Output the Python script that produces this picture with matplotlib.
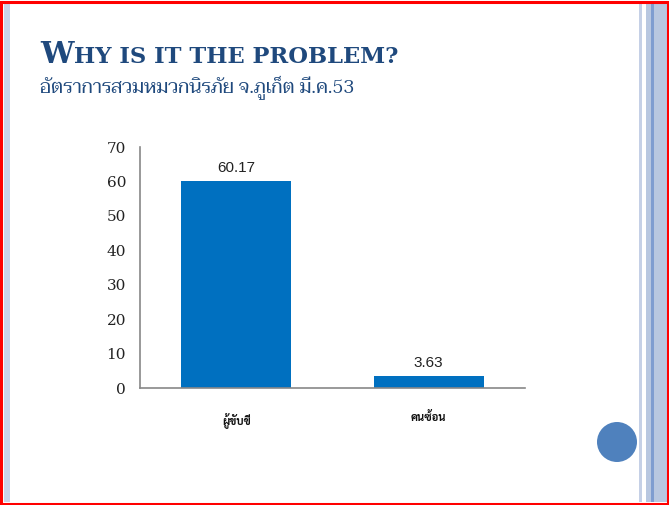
import matplotlib
matplotlib.use("Agg")
import matplotlib.pyplot as plt
from matplotlib.patches import Rectangle, Ellipse

# ---- data ----
categories = ["ผู้ขับขี่", "คนซ้อน"]
values = [60.17, 3.63]
value_labels = ["60.17", "3.63"]
yticks = [0, 10, 20, 30, 40, 50, 60, 70]
title_first = "W"
title_rest = "HY IS IT THE PROBLEM?"
subtitle = "อัตราการสวมหมวกนิรภัย จ.ภูเก็ต มี.ค.53"

W, H = 669, 505
fig = plt.figure(figsize=(W / 100, H / 100), dpi=100)

# background decoration axes (pixel coords)
bg = fig.add_axes([0, 0, 1, 1], zorder=0)
bg.set_xlim(0, W)
bg.set_ylim(H, 0)
bg.axis("off")
bg.add_patch(Rectangle((4, 3), 6, H - 6, color="#C9D3E8", lw=0))
bg.add_patch(Rectangle((639, 3), 3, H - 6, color="#C5D0E6", lw=0))
bg.add_patch(Rectangle((646, 3), 21, H - 6, color="#B8C7E0", lw=0))
bg.add_patch(Rectangle((651, 3), 2.5, H - 6, color="#7F9DD0", lw=0))
bg.add_patch(Rectangle((1, 1.5), W - 2.5, H - 3, fill=False, ec="#FF0000", lw=2.2))
bg.add_patch(Ellipse((617, 442), 40, 40, color="#4F81BD", lw=0))

# title (small caps imitation)
title_color = "#1F497D"
t1 = fig.text(40 / W, 1 - 63 / H, title_first, fontsize=21.5, fontweight="bold",
              family="DejaVu Serif", color=title_color, va="baseline", ha="left")
renderer = fig.canvas.get_renderer()
bb = t1.get_window_extent(renderer)
fig.text((bb.x1 + 1) / W, 1 - 63 / H, title_rest, fontsize=16.3, fontweight="bold",
         family="DejaVu Serif", color=title_color, va="baseline", ha="left")
fig.text(40 / W, 1 - 88 / H, subtitle, fontsize=13.6, family=["Taviraj", "DejaVu Sans"],
         color="#1F497D", va="center", ha="left")

# chart axes
ax = fig.add_axes([140 / W, 1 - 388 / H, 385 / W, 241 / H], zorder=1)
ax.patch.set_alpha(0)
x = list(range(len(categories)))
bars = ax.bar(x, values, width=0.57, color="#0070C0")
ax.set_xlim(-0.5, 1.5)
ax.set_ylim(0, 70)
ax.set_yticks(yticks)
ax.set_yticklabels([str(t) for t in yticks], family="DejaVu Serif", fontsize=11, color="#222222")
ax.set_xticks(x)
ax.set_xticklabels(categories, family=["Sarabun", "DejaVu Sans"], fontsize=8,
                   fontweight="bold", color="#111111")
ax.tick_params(axis="both", length=0)
ax.tick_params(axis="y", pad=10)
ax.tick_params(axis="x", pad=17)
for s in ["top", "right"]:
    ax.spines[s].set_visible(False)
for s in ["left", "bottom"]:
    ax.spines[s].set_color("#888888")
    ax.spines[s].set_linewidth(1.2)
for b, lab in zip(bars, value_labels):
    ax.annotate(lab, (b.get_x() + b.get_width() / 2, b.get_height()),
                xytext=(0, 4), textcoords="offset points", ha="center", va="bottom",
                fontsize=11, family="Liberation Sans", color="#222222")

fig.savefig("out.png", dpi=100)
